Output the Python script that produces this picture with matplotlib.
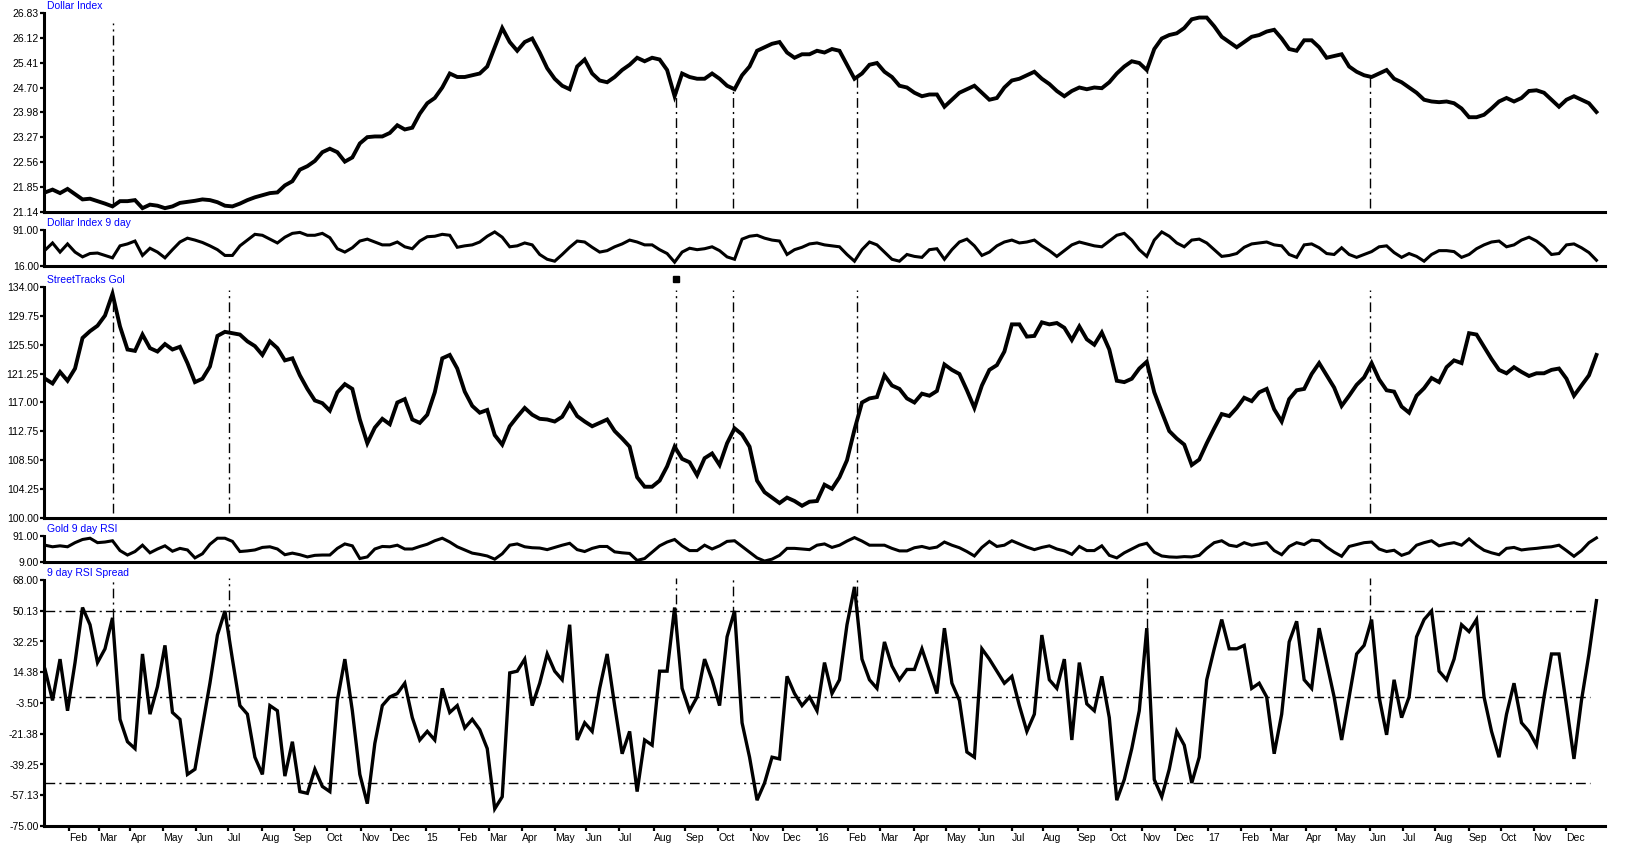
import numpy as np
import pandas as pd
import matplotlib
matplotlib.use("Agg")
import matplotlib.pyplot as plt

plt.rcParams["font.family"] = ["Liberation Sans", "DejaVu Sans"]

# -----------------------------
# Data (weekly readings, Fridays)
# -----------------------------
weeks = pd.date_range("2014-01-10", "2017-12-29", freq="W-FRI")

dollar = [
    21.70, 21.78, 21.68, 21.80, 21.65, 21.50, 21.52, 21.45, 21.38, 21.30,
    21.45, 21.45, 21.48, 21.25, 21.35, 21.32, 21.25, 21.30, 21.40, 21.43,
    21.46, 21.50, 21.48, 21.42, 21.32, 21.30, 21.38, 21.48, 21.56, 21.62,
    21.68, 21.70, 21.90, 22.02, 22.35, 22.45, 22.60, 22.85, 22.95, 22.85,
    22.58, 22.70, 23.10, 23.28, 23.30, 23.30, 23.40, 23.62, 23.50, 23.55,
    23.95, 24.25, 24.40, 24.70, 25.10, 25.00, 25.00, 25.05, 25.10, 25.30,
    25.85, 26.40, 26.00, 25.75, 26.00, 26.10, 25.70, 25.25, 24.95, 24.75,
    24.65, 25.30, 25.50, 25.10, 24.90, 24.85, 25.00, 25.20, 25.35, 25.55,
    25.45, 25.55, 25.50, 25.20, 24.45, 25.10, 25.00, 24.95, 24.95, 25.10,
    24.95, 24.75, 24.65, 25.05, 25.30, 25.75, 25.85, 25.95, 26.00, 25.70,
    25.55, 25.65, 25.65, 25.75, 25.70, 25.80, 25.75, 25.35, 24.95, 25.10,
    25.35, 25.40, 25.15, 25.00, 24.75, 24.70, 24.55, 24.45, 24.50, 24.50,
    24.15, 24.35, 24.55, 24.65, 24.75, 24.55, 24.35, 24.40, 24.70, 24.90,
    24.95, 25.05, 25.15, 24.95, 24.80, 24.60, 24.45, 24.60, 24.70, 24.65,
    24.70, 24.68, 24.85, 25.10, 25.30, 25.45, 25.40, 25.20, 25.80, 26.10,
    26.20, 26.25, 26.40, 26.65, 26.70, 26.70, 26.45, 26.15, 26.00, 25.85,
    26.00, 26.15, 26.20, 26.30, 26.35, 26.10, 25.80, 25.75, 26.05, 26.05,
    25.85, 25.55, 25.60, 25.65, 25.30, 25.15, 25.05, 25.00, 25.10, 25.20,
    24.95, 24.85, 24.70, 24.55, 24.35, 24.30, 24.28, 24.30, 24.25, 24.10,
    23.85, 23.85, 23.92, 24.10, 24.30, 24.40, 24.30, 24.40, 24.60, 24.62,
    24.55, 24.35, 24.15, 24.35, 24.45, 24.35, 24.25, 24.00,
]

dollar_rsi = [
    49, 64, 45, 62, 45, 35, 42, 43, 38, 33,
    58, 62, 68, 38, 53, 45, 33, 50, 66, 74,
    70, 65, 58, 50, 38, 38, 58, 70, 82, 80,
    72, 64, 76, 84, 86, 80, 80, 84, 75, 52,
    45, 54, 68, 72, 66, 60, 60, 66, 56, 52,
    68, 77, 78, 82, 80, 55, 58, 60, 66, 78,
    87, 76, 56, 58, 64, 60, 40, 30, 26, 40,
    55, 68, 66, 55, 45, 48, 56, 62, 70, 66,
    60, 60, 50, 42, 24, 45, 53, 50, 52, 56,
    48, 35, 30, 72, 78, 80, 74, 70, 68, 40,
    50, 55, 62, 64, 60, 58, 56, 40, 26, 50,
    66, 60, 45, 30, 26, 40, 36, 34, 50, 52,
    30, 50, 66, 72, 58, 38, 45, 58, 66, 70,
    64, 66, 70, 58, 48, 36, 48, 60, 66, 62,
    58, 56, 68, 80, 84, 70, 50, 36, 70, 87,
    78, 64, 56, 70, 72, 64, 50, 36, 38, 42,
    55, 62, 64, 66, 60, 58, 40, 34, 60, 62,
    54, 42, 40, 54, 40, 34, 40, 46, 56, 58,
    44, 34, 42, 36, 26, 40, 48, 48, 46, 34,
    40, 52, 60, 66, 68, 56, 60, 70, 76, 68,
    56, 40, 42, 60, 62, 54, 44, 28,
]

gold = [
    120.5, 119.8, 121.5, 120.2, 122.0, 126.5, 127.5, 128.3, 129.8, 133.0,
    128.2, 124.8, 124.6, 127.0, 125.0, 124.5, 125.6, 124.8, 125.2, 122.8,
    120.0, 120.5, 122.3, 126.8, 127.4, 127.2, 127.0, 126.0, 125.3, 124.0,
    126.0, 125.0, 123.2, 123.5, 121.0, 119.0, 117.3, 116.9, 115.8, 118.5,
    119.7, 119.0, 114.5, 111.0, 113.3, 114.6, 113.8, 117.0, 117.5, 114.5,
    114.0, 115.2, 118.5, 123.5, 124.0, 122.0, 118.6, 116.5, 115.5, 115.9,
    112.2, 110.8, 113.5, 114.9, 116.2, 115.2, 114.6, 114.5, 114.2, 114.9,
    116.8, 115.0, 114.2, 113.5, 114.0, 114.5, 112.8, 111.7, 110.5, 106.0,
    104.6, 104.6, 105.5, 107.6, 110.5, 108.7, 108.2, 106.3, 108.8, 109.5,
    107.8, 111.0, 113.2, 112.3, 110.5, 105.5, 103.8, 103.0, 102.2, 103.0,
    102.5, 101.8, 102.4, 102.5, 104.9, 104.3, 106.0, 108.5, 113.0, 117.0,
    117.6, 117.8, 121.0, 119.5, 119.0, 117.6, 117.0, 118.3, 118.0, 118.7,
    122.6, 121.8, 121.2, 118.8, 116.2, 119.5, 121.8, 122.5, 124.5, 128.5,
    128.5, 126.7, 126.8, 128.8, 128.5, 128.7, 128.0, 126.2, 128.2, 126.3,
    125.5, 127.3, 124.8, 120.2, 120.0, 120.5, 122.0, 123.0, 118.5, 115.6,
    112.8, 111.7, 110.8, 107.8, 108.6, 111.0, 113.2, 115.3, 115.0, 116.2,
    117.7, 117.2, 118.5, 119.0, 116.0, 114.2, 117.5, 118.8, 119.0, 121.2,
    122.8, 121.0, 119.2, 116.5, 118.0, 119.6, 120.7, 122.8, 120.4, 118.8,
    118.6, 116.4, 115.5, 118.0, 119.1, 120.6, 120.0, 122.2, 123.2, 122.8,
    127.2, 127.0, 125.2, 123.4, 121.8, 121.3, 122.2, 121.5, 120.9, 121.3,
    121.3, 121.8, 122.0, 120.5, 118.0, 119.5, 121.0, 124.0,
]

gold_rsi = [
    62, 57, 60, 57, 70, 80, 84, 70, 72, 76,
    45, 31, 42, 62, 38, 50, 60, 43, 52, 47,
    22, 35, 65, 84, 84, 74, 42, 44, 47, 55,
    57, 50, 32, 37, 32, 25, 30, 31, 31, 52,
    66, 60, 20, 25, 50, 58, 57, 62, 50, 50,
    58, 65, 76, 84, 72, 57, 47, 37, 33, 28,
    18, 35, 62, 66, 57, 54, 53, 48, 55, 62,
    68, 48, 42, 52, 58, 58, 41, 38, 36, 14,
    20, 40, 60, 72, 80, 60, 45, 45, 62, 50,
    60, 74, 76, 58, 40, 22, 12, 18, 30, 52,
    52, 50, 48, 62, 66, 55, 62, 75, 86, 75,
    62, 62, 62, 52, 44, 44, 54, 58, 52, 56,
    72, 62, 54, 42, 28, 55, 74, 58, 62, 76,
    66, 56, 48, 55, 60, 50, 44, 33, 58, 45,
    45, 60, 30, 22, 38, 50, 62, 68, 40, 28,
    25, 24, 26, 25, 30, 52, 70, 76, 62, 58,
    70, 62, 66, 70, 45, 32, 58, 70, 64, 78,
    76, 56, 40, 27, 58, 64, 70, 72, 50, 42,
    46, 30, 38, 62, 70, 76, 60, 66, 70, 62,
    82, 62, 46, 38, 32, 52, 55, 47, 50, 52,
    55, 57, 62, 45, 27, 45, 70, 85,
]

spread = [
    16, -2, 22, -8, 20, 52, 42, 20, 28, 46,
    -13, -26, -30, 25, -10, 6, 30, -9, -13, -45,
    -42, -17, 8, 36, 50, 22, -5, -10, -35, -45,
    -5, -8, -46, -26, -55, -56, -42, -52, -55, -2,
    22, -8, -45, -62, -27, -5, 0, 2, 8, -12,
    -25, -20, -25, 5, -9, -5, -18, -13, -19, -30,
    -65, -58, 14, 15, 22, -5, 8, 25, 15, 10,
    42, -25, -15, -20, 5, 25, -5, -33, -20, -55,
    -25, -28, 15, 15, 52, 5, -8, 0, 22, 10,
    -5, 35, 50, -15, -35, -60, -50, -35, -36, 12,
    2, -5, 0, -8, 20, 2, 10, 42, 64, 22,
    10, 5, 32, 18, 10, 16, 16, 28, 15, 2,
    40, 8, -2, -32, -35, 28, 22, 15, 8, 12,
    -5, -20, -10, 36, 10, 5, 22, -25, 20, -4,
    -8, 12, -12, -60, -48, -30, -8, 40, -48, -58,
    -42, -20, -28, -50, -35, 10, 28, 45, 28, 28,
    30, 5, 8, 0, -33, -10, 32, 44, 10, 5,
    40, 20, 0, -25, 0, 25, 30, 45, 0, -22,
    10, -12, 0, 35, 45, 50, 15, 10, 22, 42,
    38, 45, 0, -20, -35, -10, 8, -15, -20, -28,
    0, 25, 25, -5, -36, -2, 25, 56,
]

# signal dates (vertical dash-dot markers); the dollar panel skips the July 2014 one
events = ["2014-03-14", "2014-07-02", "2015-08-24", "2015-10-15",
          "2016-02-09", "2016-11-04", "2017-06-01"]
dollar_events = ["2014-03-14", "2015-08-24", "2015-10-15",
                 "2016-02-09", "2016-11-04", "2017-06-01"]

# axis ranges and tick labels as printed on the chart
dollar_ticks = ["21.14", "21.85", "22.56", "23.27", "23.98", "24.70", "25.41", "26.12", "26.83"]
gold_ticks = ["100.00", "104.25", "108.50", "112.75", "117.00", "121.25", "125.50", "129.75", "134.00"]
spread_ticks = ["-75.00", "-57.13", "-39.25", "-21.38", "-3.50", "14.38", "32.25", "50.13", "68.00"]
spread_levels = [50, 0, -50]

# -----------------------------
# x positions on a trading-day axis
# -----------------------------
days = pd.bdate_range("2014-01-10", "2018-01-31")
x = days.get_indexer(weeks)
ev_x = days.get_indexer(pd.to_datetime(events))
dev_x = days.get_indexer(pd.to_datetime(dollar_events))

months = pd.date_range("2014-02-01", "2017-12-01", freq="MS")
month_pos = days.searchsorted(months)
month_lab = [m.strftime("%y") if m.month == 1 else m.strftime("%b") for m in months]

# -----------------------------
# Figure layout (pixel boxes of the original)
# -----------------------------
W, H = 1647, 847
fig = plt.figure(figsize=(W / 100, H / 100), dpi=100)


def panel(top, bottom):
    return fig.add_axes([44 / W, 1 - bottom / H, 1561 / W, (bottom - top) / H])


ax1 = panel(13, 212)
ax2 = panel(230, 266)
ax3 = panel(287, 518)
ax4 = panel(536, 562)
ax5 = panel(580, 826)

dd = dict(color="black", linewidth=1.0, linestyle=(0, (7, 3, 1.5, 3)))

setup = [
    (ax1, dollar, "Dollar Index", (21.14, 26.83), dollar_ticks, 2.8),
    (ax2, dollar_rsi, "Dollar Index 9 day", (16, 91), ["16.00", "91.00"], 2.2),
    (ax3, gold, "StreetTracks Gol", (100, 134), gold_ticks, 2.8),
    (ax4, gold_rsi, "Gold 9 day RSI", (9, 91), ["9.00", "91.00"], 2.2),
    (ax5, spread, "9 day RSI Spread", (-75, 68), spread_ticks, 2.4),
]

for ax, series, title, (lo, hi), labels, lw in setup:
    ax.plot(x, series, color="black", linewidth=lw, solid_joinstyle="miter")
    ax.set_xlim(-0.7, 1040.7)
    ax.set_ylim(lo, hi)
    ax.set_yticks(np.linspace(lo, hi, len(labels)))
    ax.set_yticklabels(labels)
    ax.tick_params(axis="y", length=3.2, width=1.6, pad=0.6, labelsize=7.5)
    ax.tick_params(axis="x", bottom=False, labelbottom=False)
    for s in ["top", "right"]:
        ax.spines[s].set_visible(False)
    for s in ["left", "bottom"]:
        ax.spines[s].set_linewidth(2.2)
    ax.annotate(title, xy=(0, 1), xycoords="axes fraction", xytext=(2.5, 4.8),
                textcoords="offset points", color="#0000ff", fontsize=7.5,
                va="center", ha="left")

# -----------------------------
# Signal lines
# -----------------------------
for e in dev_x:
    # dollar: from price down, or from top to price if price sits at the floor
    v = np.interp(e, x, dollar)
    if v - 21.14 < 0.15 * (26.83 - 21.14):
        ax1.vlines(e, v, 26.55, **dd)
    else:
        ax1.vlines(e, 21.25, v, **dd)

for i, e in enumerate(ev_x):
    # gold: full height
    if i == 0:
        ax3.vlines(e, 100.8, np.interp(e, x, gold), **dd)
    else:
        ax3.vlines(e, 100.8, 133.6, **dd)

    # spread: from top down to the value
    ax5.vlines(e, np.interp(e, x, spread), 69.2, clip_on=False, **dd)

ax3.plot(ev_x[2], 135.2, marker="s", color="black", markersize=4, clip_on=False)

# spread reference levels
for lvl in spread_levels:
    ax5.hlines(lvl, 0, x[-1] - 4, **dd)

# -----------------------------
# Month axis
# -----------------------------
ax5.set_xticks(month_pos)
ax5.set_xticklabels(month_lab)
ax5.tick_params(axis="x", bottom=True, labelbottom=True, length=3.5, width=1.6,
                pad=1.5, labelsize=7.5, direction="out")
for t in ax5.get_xticklabels():
    t.set_horizontalalignment("left")

fig.savefig("out.png", dpi=100, facecolor="white")
